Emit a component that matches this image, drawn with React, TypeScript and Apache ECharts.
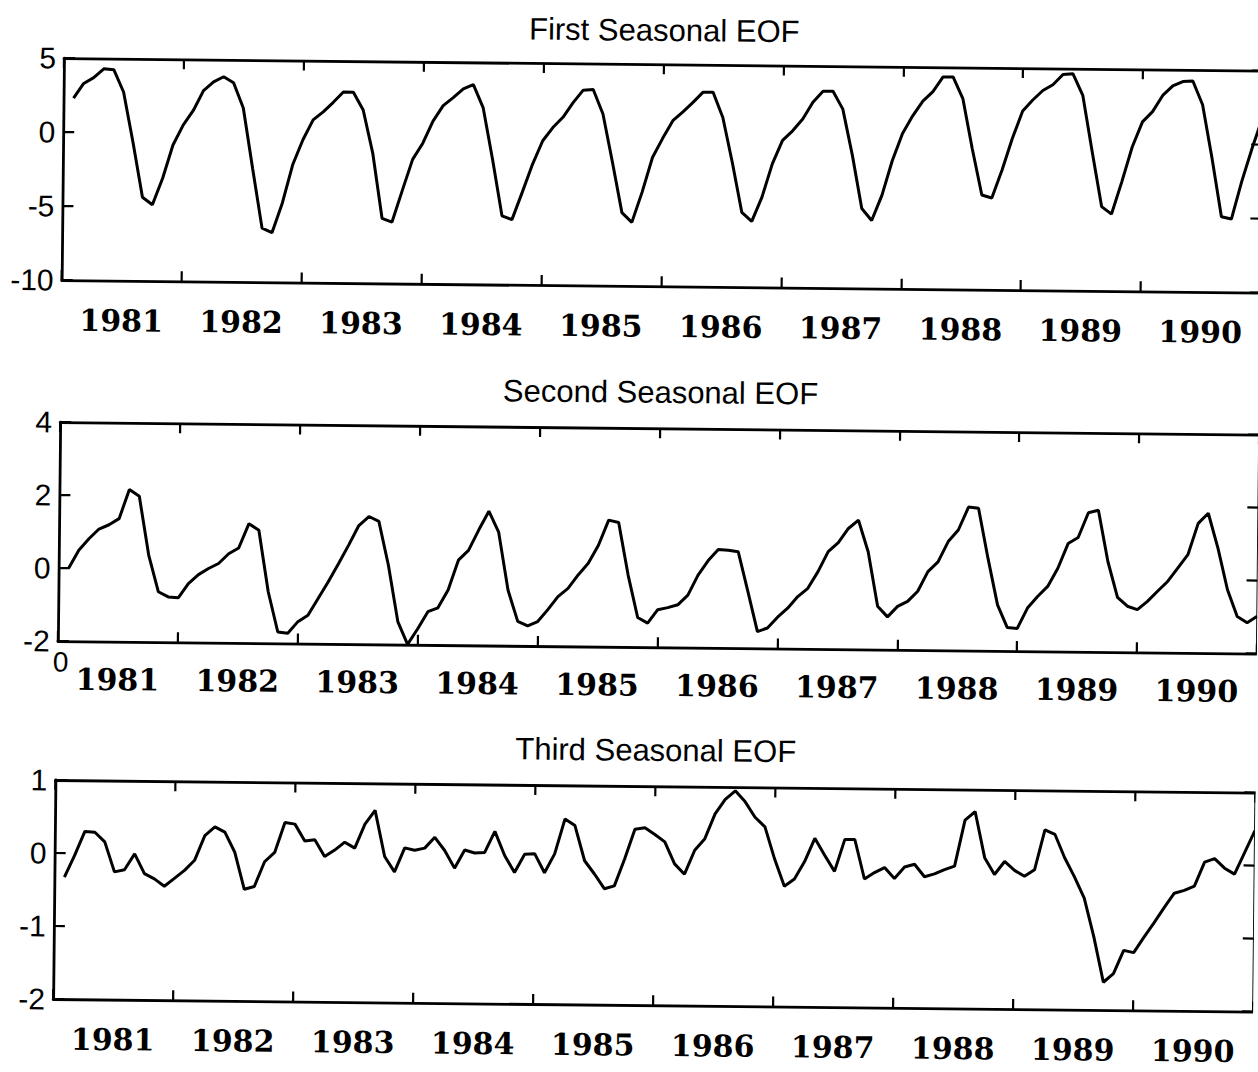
import React, { useEffect, useRef } from 'react';
import * as echarts from 'echarts';

// Year labels placed under each yearly band (12 months per band)
const years = ['1981', '1982', '1983', '1984', '1985', '1986', '1987', '1988', '1989', '1990'];

const titles = ['First Seasonal EOF', 'Second Seasonal EOF', 'Third Seasonal EOF'];

// y axis scales per panel
const yMins = [-10, -2, -2];
const yMaxs = [5, 4, 1];
const ySteps = [5, 2, 1];

// monthly values, month 1 .. 120
const eof1 = [
  2.3, 3.3, 3.7, 4.3, 4.25, 2.75, -0.65, -4.35, -4.85, -3.05, -0.8, 0.55,
  1.55, 2.9, 3.5, 3.85, 3.45, 1.75, -2.35, -6.35, -6.65, -4.65, -2.05, -0.35,
  1.0, 1.55, 2.2, 2.9, 2.9, 1.7, -1.2, -5.6, -5.85, -3.7, -1.6, -0.5,
  1.0, 2.05, 2.6, 3.2, 3.5, 1.95, -1.55, -5.35, -5.6, -3.75, -1.85, -0.25,
  0.65, 1.35, 2.35, 3.2, 3.25, 1.6, -1.65, -5.05, -5.7, -3.65, -1.3, 0.0,
  1.2, 1.8, 2.45, 3.15, 3.15, 1.45, -1.6, -4.95, -5.55, -3.9, -1.65, -0.05,
  0.6, 1.4, 2.55, 3.3, 3.3, 2.1, -1.0, -4.6, -5.4, -3.7, -1.35, 0.5,
  1.7, 2.7, 3.35, 4.35, 4.35, 2.9, -0.5, -3.6, -3.8, -1.9, 0.25, 2.1,
  2.85, 3.5, 3.9, 4.6, 4.65, 3.2, -0.6, -4.3, -4.8, -2.6, -0.25, 1.45,
  2.15, 3.25, 3.9, 4.2, 4.25, 2.65, -0.95, -4.9, -5.05, -2.5, -0.25, 1.8,
];

const eof2 = [
  0.0, 0.49, 0.81, 1.08, 1.2, 1.37, 2.17, 1.99, 0.38, -0.62, -0.76, -0.78,
  -0.39, -0.14, 0.03, 0.17, 0.44, 0.6, 1.27, 1.09, -0.59, -1.69, -1.72, -1.4,
  -1.22, -0.76, -0.3, 0.2, 0.71, 1.25, 1.5, 1.37, 0.17, -1.37, -1.99, -1.56,
  -1.09, -0.98, -0.49, 0.33, 0.6, 1.16, 1.68, 1.11, -0.48, -1.33, -1.45, -1.33,
  -1.0, -0.64, -0.41, -0.04, 0.28, 0.78, 1.47, 1.41, -0.03, -1.19, -1.34, -0.97,
  -0.91, -0.83, -0.56, -0.01, 0.39, 0.7, 0.68, 0.64, -0.44, -1.54, -1.44, -1.14,
  -0.89, -0.57, -0.34, 0.12, 0.67, 0.92, 1.31, 1.54, 0.68, -0.81, -1.1, -0.81,
  -0.67, -0.39, 0.15, 0.42, 0.98, 1.3, 1.93, 1.9, 0.53, -0.74, -1.36, -1.38,
  -0.82, -0.5, -0.22, 0.28, 0.96, 1.13, 1.81, 1.88, 0.48, -0.5, -0.74, -0.83,
  -0.6, -0.32, -0.05, 0.32, 0.69, 1.55, 1.83, 0.88, -0.26, -0.99, -1.16, -0.98,
];

const eof3 = [
  -0.33, -0.03, 0.3, 0.29, 0.16, -0.25, -0.22, 0.0, -0.27, -0.34, -0.44, -0.33,
  -0.22, -0.08, 0.26, 0.38, 0.31, 0.04, -0.47, -0.43, -0.09, 0.04, 0.45, 0.43,
  0.2, 0.22, -0.01, 0.08, 0.19, 0.11, 0.44, 0.63, 0.0, -0.21, 0.12, 0.09,
  0.12, 0.27, 0.09, -0.15, 0.1, 0.06, 0.07, 0.36, 0.03, -0.2, 0.05, 0.06,
  -0.2, 0.06, 0.54, 0.45, -0.03, -0.21, -0.41, -0.37, 0.0, 0.41, 0.43, 0.34,
  0.24, -0.06, -0.2, 0.13, 0.29, 0.63, 0.83, 0.95, 0.8, 0.59, 0.46, 0.02,
  -0.35, -0.25, -0.01, 0.31, 0.08, -0.14, 0.3, 0.3, -0.24, -0.15, -0.08, -0.23,
  -0.07, -0.03, -0.2, -0.16, -0.1, -0.05, 0.58, 0.7, 0.07, -0.16, 0.02, -0.1,
  -0.18, -0.09, 0.46, 0.4, 0.08, -0.18, -0.47, -1.0, -1.62, -1.5, -1.18, -1.21,
  -1.0, -0.8, -0.59, -0.39, -0.35, -0.29, 0.04, 0.09, -0.04, -0.12, 0.18, 0.48,
];

const seriesData = [eof1, eof2, eof3];

// layout (unrotated frame; the whole page is a slightly tilted scan)
const LAYOUT = [
  { left: 59, top: 64, height: 222, labelMargin: 25, titleY: 30 },
  { left: 59, top: 428, height: 219, labelMargin: 23, titleY: 392 },
  { left: 58, top: 786, height: 219, labelMargin: 25, titleY: 750 },
];
const PLOT_W = 1200;

const axisLineStyle = { color: '#000', width: 2.8 };
const tickStyle = { color: '#000', width: 2.2 };

export default function App() {
  const ref = useRef<HTMLDivElement>(null);

  useEffect(() => {
    if (!ref.current) return;
    const chart = echarts.init(ref.current, null, { renderer: 'svg' });

    const xAxis: any[] = [];
    const yAxis: any[] = [];
    LAYOUT.forEach((g, i) => {
      xAxis.push({
        type: 'value', gridIndex: i, min: 0, max: 120, show: false,
      });
      xAxis.push({
        type: 'category', gridIndex: i, data: years, position: 'bottom', boundaryGap: true,
        axisLine: { show: true, onZero: false, lineStyle: axisLineStyle },
        axisTick: { show: true, inside: true, length: 10, interval: 0, lineStyle: tickStyle },
        axisLabel: {
          show: true, interval: 0, color: '#000', fontFamily: 'DejaVu Serif', fontWeight: 'bold',
          fontSize: 30, margin: g.labelMargin,
        },
        splitLine: { show: false },
      });
      xAxis.push({
        type: 'category', gridIndex: i, data: years, position: 'top', boundaryGap: true,
        axisLine: { show: true, onZero: false, lineStyle: axisLineStyle },
        axisTick: { show: true, inside: true, length: 10, interval: 0, lineStyle: tickStyle },
        axisLabel: { show: false },
        splitLine: { show: false },
      });
      yAxis.push({
        type: 'value', gridIndex: i, min: yMins[i], max: yMaxs[i], interval: ySteps[i], position: 'left',
        axisLine: { show: true, onZero: false, lineStyle: axisLineStyle },
        axisTick: { show: true, inside: true, length: 11, lineStyle: tickStyle },
        axisLabel: { show: true, color: '#000', fontFamily: 'Liberation Sans', fontSize: 30, margin: 8 },
        splitLine: { show: false },
      });
      yAxis.push({
        type: 'value', gridIndex: i, min: yMins[i], max: yMaxs[i], interval: ySteps[i], position: 'right',
        axisLine: { show: true, onZero: false, lineStyle: axisLineStyle },
        axisTick: { show: true, inside: true, length: 11, lineStyle: tickStyle },
        axisLabel: { show: false },
        splitLine: { show: false },
      });
    });

    const graphic: any[] = LAYOUT.map((g, i) => ({
      type: 'text',
      x: g.left + PLOT_W / 2,
      y: g.titleY,
      style: {
        text: titles[i], fill: '#000', fontSize: 31, fontFamily: 'Liberation Sans',
        align: 'center', verticalAlign: 'middle', textAlign: 'center', textVerticalAlign: 'middle',
      },
    }));
    graphic.push({
      type: 'text', x: 62, y: 668,
      style: {
        text: '0', fill: '#000', fontSize: 28, fontFamily: 'Liberation Sans',
        align: 'center', verticalAlign: 'middle', textAlign: 'center', textVerticalAlign: 'middle',
      },
    });

    chart.setOption({
      animation: false,
      backgroundColor: '#fff',
      grid: LAYOUT.map((g) => ({ left: g.left, top: g.top, width: PLOT_W, height: g.height })),
      xAxis,
      yAxis,
      series: seriesData.map((d, i) => ({
        type: 'line',
        xAxisIndex: i * 3,
        yAxisIndex: i * 2,
        data: d.map((v, k) => [k + 1, v]),
        symbol: 'none',
        showSymbol: false,
        lineStyle: { color: '#000', width: 3 },
        clip: true,
      })),
      graphic,
    });

    return () => chart.dispose();
  }, []);

  return (
    <div
      ref={ref}
      style={{
        position: 'absolute', left: 0, top: 0, width: 1258, height: 1072,
        transform: 'rotate(0.6deg)', transformOrigin: '629px 536px', background: '#fff',
      }}
    />
  );
}
